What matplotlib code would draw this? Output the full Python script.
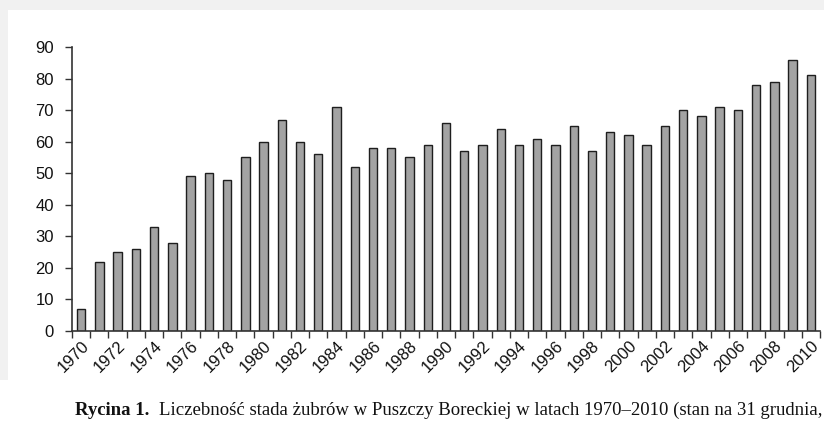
import matplotlib.pyplot as plt
from matplotlib.patches import Rectangle

# Bison herd size in Puszcza Borecka, 1970-2010
years = list(range(1970, 2011))
counts = [7, 22, 25, 26, 33, 28, 49, 50, 48, 55,
          60, 67, 60, 56, 71, 52, 58, 58, 55, 59,
          66, 57, 59, 64, 59, 61, 59, 65, 57, 63,
          62, 59, 65, 70, 68, 71, 70, 78, 79, 86, 81]
yticks = list(range(0, 100, 10))

W, H = 824, 425
fig = plt.figure(figsize=(W / 100, H / 100), dpi=100, facecolor='#f1f1f1')

# white page area (screenshot has a grey margin top/left)
fig.patches.append(Rectangle((8 / W, 0), 1, (H - 10) / H, transform=fig.transFigure,
                             facecolor='white', edgecolor='none', zorder=-5))
fig.patches.append(Rectangle((0, 0), 1, (H - 380) / H, transform=fig.transFigure,
                             facecolor='white', edgecolor='none', zorder=-5))

ax = fig.add_axes([72 / W, (H - 331) / H, (820 - 72) / W, (331 - 47) / H])
ax.set_facecolor('none')
ax.set_zorder(2)

x = list(range(len(years)))
ax.bar(x, counts, width=0.46, color='#a3a3a3', edgecolor='#1e1e1e', linewidth=1.0)

ax.set_xlim(-0.5, len(years) - 0.5)
ax.set_ylim(0, 90)
ax.set_yticks(yticks)
ax.set_yticklabels([str(v) for v in yticks], fontsize=12, family='Liberation Sans', color='#111111')

# ticks between categories, labels every second year
ax.set_xticks([i - 0.5 for i in range(len(years) + 1)])
ax.set_xticklabels([])
ax.set_xticks(x[::2], minor=True)
ax.set_xticklabels([str(y) for y in years[::2]], minor=True, rotation=45,
                   ha='right', va='top', rotation_mode='anchor',
                   fontsize=12, family='Liberation Sans', color='#111111')
ax.tick_params(axis='x', which='minor', length=0, pad=5)
ax.tick_params(axis='x', which='major', length=5, width=1, color='#333333')
ax.tick_params(axis='y', length=5, width=1, color='#333333', pad=8)

for s in ['top', 'right']:
    ax.spines[s].set_visible(False)
for s in ['left', 'bottom']:
    ax.spines[s].set_color('#333333')
    ax.spines[s].set_linewidth(1.2)

# caption
t1 = fig.text(75 / W, (H - 415) / H, 'Rycina 1.', family='Liberation Serif',
              fontweight='bold', fontsize=13.5, color='#111111', zorder=3)
fig.canvas.draw()
bb = t1.get_window_extent()
fig.text((bb.x1 + 10) / W, (H - 415) / H,
         'Liczebność stada żubrów w Puszczy Boreckiej w latach 1970–2010 (stan na 31 grudnia,',
         family='Liberation Serif', fontsize=13.5, color='#111111', zorder=3)

fig.savefig('out.png', dpi=100, facecolor=fig.get_facecolor())
